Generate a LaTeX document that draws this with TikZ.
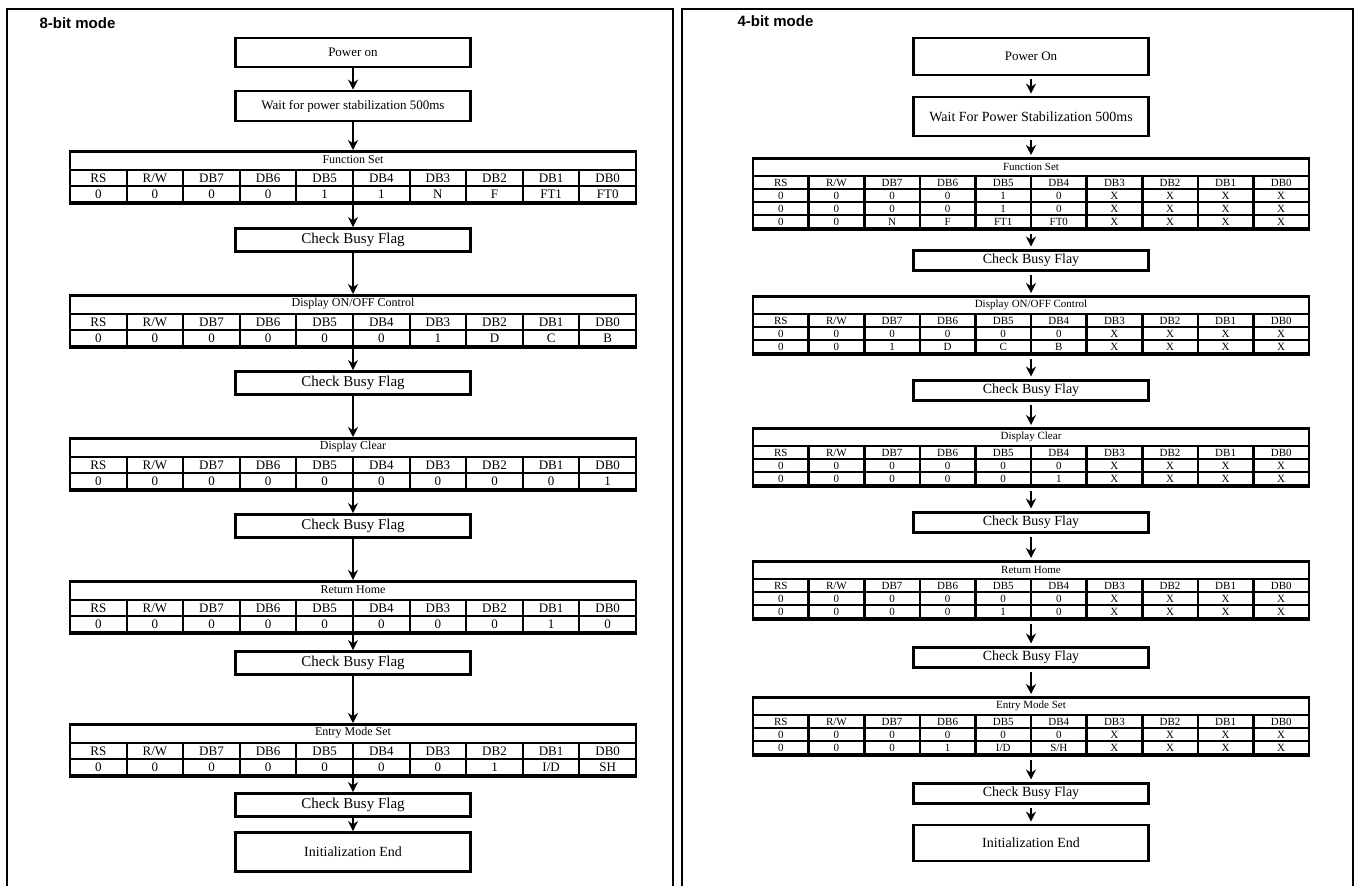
\documentclass[tikz,border=0pt]{standalone}
\usepackage{fontspec}
\setmainfont{Liberation Serif}
\setsansfont{Liberation Sans}
\usetikzlibrary{arrows.meta}

\newcommand{\fsz}[1]{\fontsize{#1}{#1}\selectfont}
\newcommand{\bitnames}{RS,R/W,DB7,DB6,DB5,DB4,DB3,DB2,DB1,DB0}

% 8-bit register table: name, top, title, values
\newcommand{\eighttab}[4]{%
  \node[tabtitle] (#1-t) at (353,#2+10) {#3};
  \foreach \h [count=\i] in \bitnames
    \node[lcell] (#1-h\i) at ({70+(\i-.5)*56.6},#2+28) {\h};
  \foreach \v [count=\i] in {#4}
    \node[lcell] (#1-v\i) at ({70+(\i-.5)*56.6},#2+44) {\v};
  \node[tabframe, minimum width=566, minimum height=52, anchor=north] (#1) at (353,#2) {};
}

% 4-bit register table: name, top, title, height, rows
\newcommand{\fourtab}[5]{%
  \node[tabtitle, font=\fsz{11}] (#1-t) at (1031,#2+9.5) {#3};
  \foreach \h [count=\i] in \bitnames
    \node[rcell] (#1-h\i) at ({753+(\i-.5)*55.6},#2+25.5) {\h};
  \foreach \row [count=\r] in {#5}
    \foreach \v [count=\i] in \row
      \node[rcell] (#1-\r-\i) at ({753+(\i-.5)*55.6},{#2+25.5+13*\r}) {\v};
  \node[tabframe, minimum width=556, minimum height=#4, anchor=north] (#1) at (1031,#2) {};
}

\begin{document}
\begin{tikzpicture}[x=1pt, y=-1pt,
  panel/.style={draw, line width=1.4pt},
  mode/.style={anchor=west, font=\sffamily\bfseries\fsz{15}},
  stepbox/.style={draw, line width=2.8pt, minimum width=235, inner sep=0pt,
    font=\fsz{13}},
  busybox/.style={stepbox, font=\fsz{15}},
  tabframe/.style={draw, line width=2.8pt, inner sep=0pt},
  tabtitle/.style={font=\fsz{12}, inner sep=0pt},
  lcell/.style={draw, line width=2pt, inner sep=0pt, minimum width=56.6,
    minimum height=16, font=\fsz{13}},
  rcell/.style={draw, line width=2.6pt, inner sep=0pt, minimum width=55.6,
    minimum height=13, font=\fsz{11}},
  arr/.style={-{Stealth[length=10pt,width=10pt]}, line width=2.2pt},
  sarr/.style={arr, shorten <=3pt, shorten >=2pt}
]
  \useasboundingbox (0,0) rectangle (1359,886);

  % panels
  \draw[panel] (7,886) |- (673,9) -- (673,886);
  \draw[panel] (682,886) |- (1353,9) -- (1353,886);
  \node[mode] (eight) at (36,23) {8-bit mode};
  \node[mode] (four) at (734,21) {4-bit mode};

  % 8-bit mode
  \node[stepbox, minimum height=29] (lpon) at (353,52.5) {Power on};
  \node[stepbox, minimum height=30] (lwait) at (353,106)
    {Wait for power stabilization 500ms};
  \eighttab{lfs}{150}{Function Set}{0,0,0,0,1,1,N,F,FT1,FT0}
  \node[busybox, minimum height=23] (lbusy1) at (353,240) {Check Busy Flag};
  \eighttab{ldisp}{294}{Display ON/OFF Control}{0,0,0,0,0,0,1,D,C,B}
  \node[busybox, minimum height=23] (lbusy2) at (353,383) {Check Busy Flag};
  \eighttab{lclr}{437}{Display Clear}{0,0,0,0,0,0,0,0,0,1}
  \node[busybox, minimum height=23] (lbusy3) at (353,526) {Check Busy Flag};
  \eighttab{lhome}{580}{Return Home}{0,0,0,0,0,0,0,0,1,0}
  \node[busybox, minimum height=23] (lbusy4) at (353,663) {Check Busy Flag};
  \eighttab{lentry}{723}{Entry Mode Set}{0,0,0,0,0,0,0,1,I/D,SH}
  \node[busybox, minimum height=23] (lbusy5) at (353,805) {Check Busy Flag};
  \node[stepbox, minimum height=39, font=\fsz{14}] (lend) at (353,852)
    {Initialization End};

  \draw[arr] (lpon) -- (lwait);
  \draw[arr] (lwait) -- (lfs);
  \draw[arr] (lfs) -- (lbusy1);
  \draw[arr] (lbusy1) -- (ldisp);
  \draw[arr] (ldisp) -- (lbusy2);
  \draw[arr] (lbusy2) -- (lclr);
  \draw[arr] (lclr) -- (lbusy3);
  \draw[arr] (lbusy3) -- (lhome);
  \draw[arr] (lhome) -- (lbusy4);
  \draw[arr] (lbusy4) -- (lentry);
  \draw[arr] (lentry) -- (lbusy5);
  \draw[arr] (lbusy5) -- (lend);

  % 4-bit mode
  \node[stepbox, minimum height=37] (rpon) at (1031,56.5) {Power On};
  \node[stepbox, minimum height=39, font=\fsz{14}] (rwait) at (1031,116.5)
    {Wait For Power Stabilization 500ms};
  \fourtab{rfs}{157}{Function Set}{71}
    {{0,0,0,0,1,0,X,X,X,X},{0,0,0,0,1,0,X,X,X,X},{0,0,N,F,FT1,FT0,X,X,X,X}}
  \node[busybox, minimum height=20, line width=3pt, font=\fsz{14}] (rbusy1)
    at (1031,260) {Check Busy Flay};
  \fourtab{rdisp}{295}{Display ON/OFF Control}{58}
    {{0,0,0,0,0,0,X,X,X,X},{0,0,1,D,C,B,X,X,X,X}}
  \node[busybox, minimum height=20, line width=3pt, font=\fsz{14}] (rbusy2)
    at (1031,390) {Check Busy Flay};
  \fourtab{rclr}{427}{Display Clear}{58}
    {{0,0,0,0,0,0,X,X,X,X},{0,0,0,0,0,1,X,X,X,X}}
  \node[busybox, minimum height=20, line width=3pt, font=\fsz{14}] (rbusy3)
    at (1031,522) {Check Busy Flay};
  \fourtab{rhome}{560}{Return Home}{58}
    {{0,0,0,0,0,0,X,X,X,X},{0,0,0,0,1,0,X,X,X,X}}
  \node[busybox, minimum height=20, line width=3pt, font=\fsz{14}] (rbusy4)
    at (1031,657) {Check Busy Flay};
  \fourtab{rentry}{696}{Entry Mode Set}{58}
    {{0,0,0,0,0,0,X,X,X,X},{0,0,0,1,I/D,S/H,X,X,X,X}}
  \node[busybox, minimum height=20, line width=3pt, font=\fsz{14}] (rbusy5)
    at (1031,793) {Check Busy Flay};
  \node[stepbox, minimum height=36, font=\fsz{14}] (rend) at (1031,843)
    {Initialization End};

  \draw[sarr] (rpon) -- (rwait);
  \draw[sarr] (rwait) -- (rfs);
  \draw[sarr] (rfs) -- (rbusy1);
  \draw[sarr] (rbusy1) -- (rdisp);
  \draw[sarr] (rdisp) -- (rbusy2);
  \draw[sarr] (rbusy2) -- (rclr);
  \draw[sarr] (rclr) -- (rbusy3);
  \draw[sarr] (rbusy3) -- (rhome);
  \draw[sarr] (rhome) -- (rbusy4);
  \draw[sarr] (rbusy4) -- (rentry);
  \draw[sarr] (rentry) -- (rbusy5);
  \draw[sarr] (rbusy5) -- (rend);
\end{tikzpicture}
\end{document}
